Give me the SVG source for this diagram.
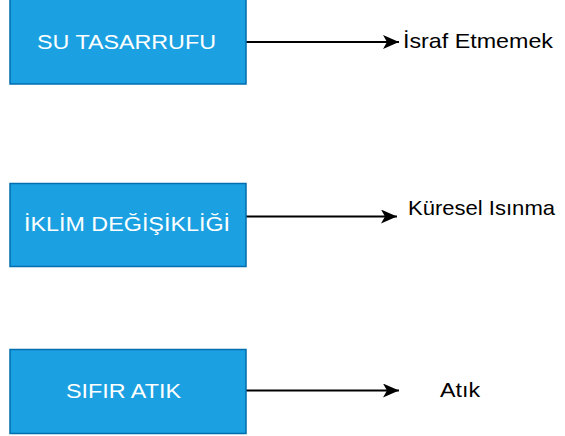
<svg xmlns="http://www.w3.org/2000/svg" width="565" height="436" viewBox="0 0 565 436">
<style>
.box{fill:#1BA1E2;stroke:#006EAF;stroke-width:1.5}
.bt{font-family:"Liberation Sans",Arial,sans-serif;font-size:21px;fill:#ffffff}
.lt{font-family:"Liberation Sans",Arial,sans-serif;font-size:21px;fill:#000000}
.edge{stroke:#000;stroke-width:2;fill:none;marker-end:url(#arr)}
</style>
<defs>
<marker id="arr" markerUnits="userSpaceOnUse" viewBox="0 0 16 14" refX="16" refY="7" markerWidth="16" markerHeight="14" orient="auto">
<path d="M0,0 L16,7 L0,14 L4,7 Z" fill="#000"/>
</marker>
</defs>
<rect width="565" height="436" fill="#ffffff"/>
<g id="connectors">
<path class="edge" d="M246,42 L399,42"/>
<path class="edge" d="M246,216.5 L397,216.5"/>
<path class="edge" d="M246,390.5 L399,390.5"/>
</g>
<g id="n1"><rect class="box" x="10" y="-1" width="236" height="85"/><text class="bt" x="37" y="48.5" textLength="179" lengthAdjust="spacingAndGlyphs">SU TASARRUFU</text></g>
<g id="n2"><rect class="box" x="10" y="183.5" width="236" height="83"/><text class="bt" x="24" y="231" textLength="206" lengthAdjust="spacingAndGlyphs">İKLİM DEĞİŞİKLİĞİ</text></g>
<g id="n3"><rect class="box" x="10" y="349.5" width="236" height="84"/><text class="bt" x="66" y="397.5" textLength="115" lengthAdjust="spacingAndGlyphs">SIFIR ATIK</text></g>
<g id="l1"><text class="lt" x="403" y="48" textLength="150" lengthAdjust="spacingAndGlyphs">İsraf Etmemek</text></g>
<g id="l2"><text class="lt" x="408" y="215" textLength="147" lengthAdjust="spacingAndGlyphs">Küresel Isınma</text></g>
<g id="l3"><text class="lt" x="440" y="397" textLength="40" lengthAdjust="spacingAndGlyphs">Atık</text></g>
</svg>
